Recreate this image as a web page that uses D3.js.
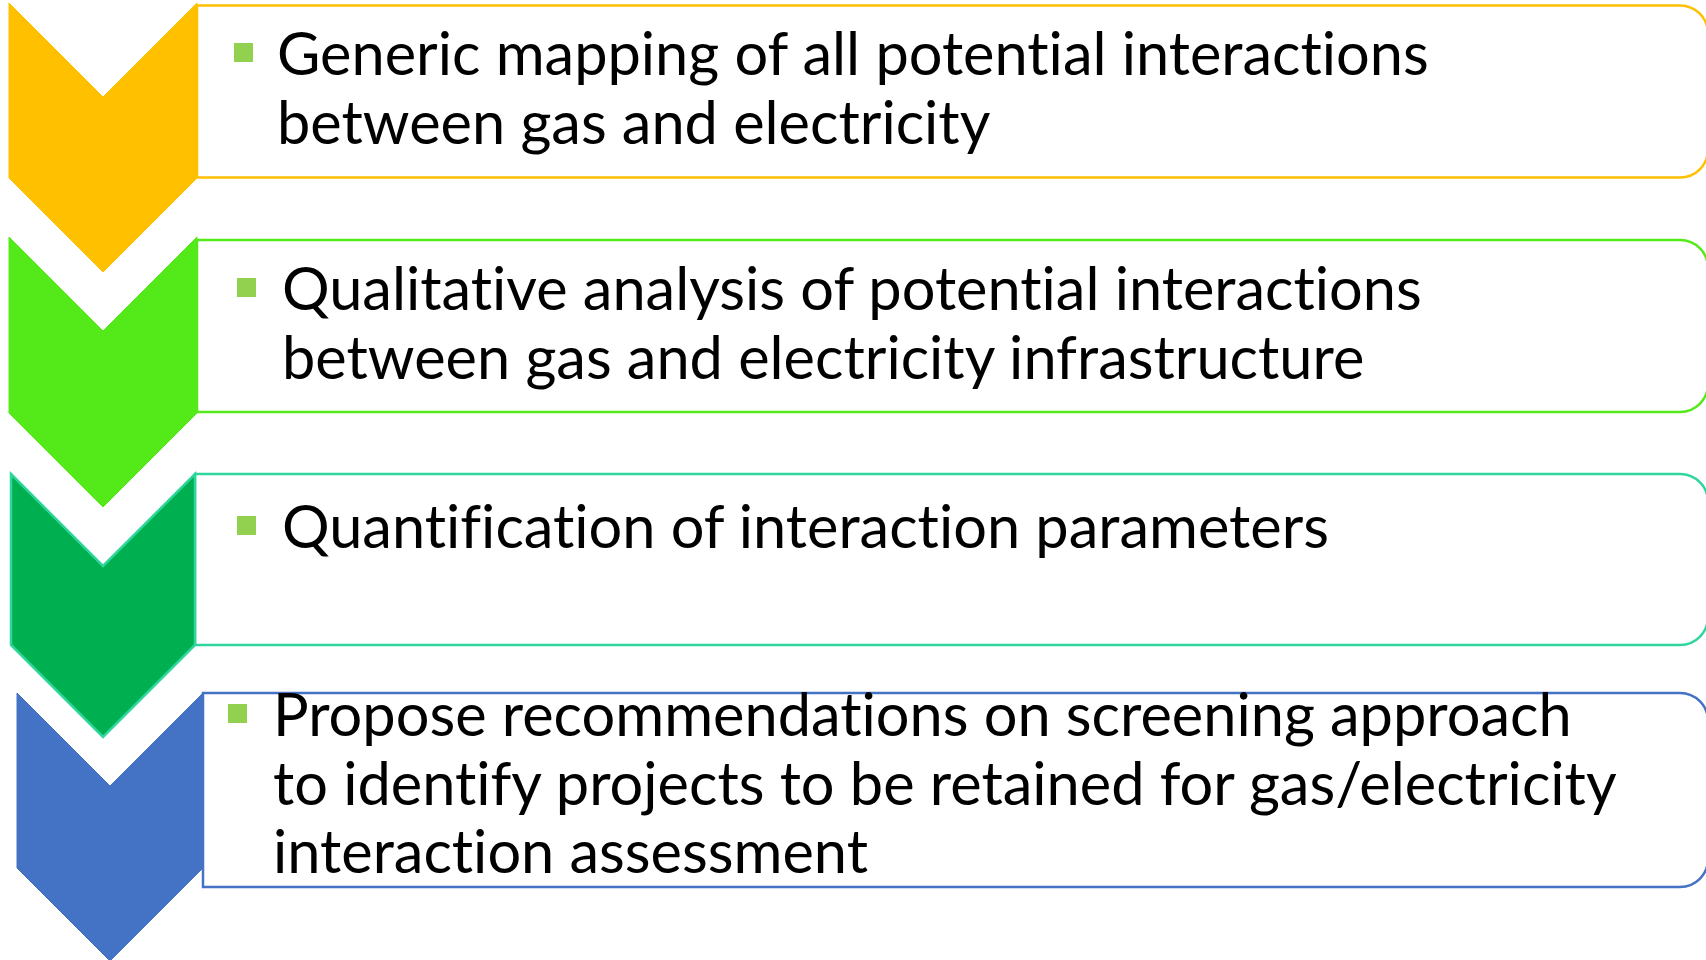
<!DOCTYPE html>
<html>
<head>
<meta charset="utf-8">
<script src="https://cdn.jsdelivr.net/npm/d3@7"></script>
<style>
  html, body { margin: 0; padding: 0; background: #fff; overflow: hidden; }
  svg { display: block; }
  svg text { font-variant-ligatures: none; font-feature-settings: "liga" 0, "clig" 0; }
</style>
</head>
<body>
<div id="chart"></div>
<script>
// data
var steps = ["step1", "step2", "step3", "step4"];
var stepLines = [
    ["Generic mapping of all potential interactions", "between gas and electricity"],
    ["Qualitative analysis of potential interactions", "between gas and electricity infrastructure"],
    ["Quantification of interaction parameters"],
    ["Propose recommendations on screening approach", "to identify projects to be retained for gas/electricity", "interaction assessment"]
];
var fillColors   = ["#FFC000", "#54EA1A", "#00B050", "#4472C4"];
var strokeColors = ["#FFC000", "#54EA1A", "#2ED69E", "#4472C4"];
var bulletColor = "#92D050";

// layout (px) per step: chevron x-range / top / side height, box top / bottom, text start
var layout = [
    {cx0: 9,  cx1: 197, top: 3,   side: 175, boxTop: 5.5, boxBot: 177.5, bx: 234, tx: 277, base: 75},
    {cx0: 9,  cx1: 197, top: 237, side: 176, boxTop: 240, boxBot: 412,   bx: 237, tx: 282, base: 310},
    {cx0: 11, cx1: 195, top: 474, side: 171, boxTop: 474, boxBot: 645,   bx: 237, tx: 282, base: 548},
    {cx0: 17, cx1: 203, top: 693, side: 175, boxTop: 693, boxBot: 887,   bx: 228, tx: 273, base: 736}
];
var boxRight = 1708, boxR = 28, lineStep = 68.5, bulletSize = 19;

var W = 1706, H = 960;
var svg = d3.select("#chart").append("svg").attr("width", W).attr("height", H);

// fit font size so first line spans what it does in the picture
var fontFamily = "Lato, 'Open Sans', sans-serif";
var probe = svg.append("text").style("font-family", fontFamily).style("font-size", "100px").text(stepLines[0][0]);
var probeW = probe.node().getComputedTextLength();
probe.remove();
var fontSize = 100 * 1152 / probeW;

var g = svg.selectAll(".step").data(steps).enter().append("g").attr("class", "step");

// boxes: square left corners, rounded right corners
g.append("path")
    .attr("d", function (d, i) {
        var L = layout[i];
        var p = d3.path();
        p.moveTo(L.cx1, L.boxTop);
        p.lineTo(boxRight - boxR, L.boxTop);
        p.arcTo(boxRight, L.boxTop, boxRight, L.boxTop + boxR, boxR);
        p.lineTo(boxRight, L.boxBot - boxR);
        p.arcTo(boxRight, L.boxBot, boxRight - boxR, L.boxBot, boxR);
        p.lineTo(L.cx1, L.boxBot);
        p.closePath();
        return p.toString();
    })
    .attr("fill", "#fff")
    .attr("stroke", function (d, i) { return strokeColors[i]; })
    .attr("stroke-width", 2.5);

// chevrons
g.append("path")
    .attr("d", function (d, i) {
        var L = layout[i];
        var mid = (L.cx0 + L.cx1) / 2, notch = (L.cx1 - L.cx0) / 2;
        var bot = L.top + L.side;
        return d3.line()([
            [L.cx0, L.top], [mid, L.top + notch], [L.cx1, L.top],
            [L.cx1, bot], [mid, bot + notch], [L.cx0, bot]
        ]) + "Z";
    })
    .attr("fill", function (d, i) { return fillColors[i]; })
    .attr("stroke", function (d, i) { return strokeColors[i]; })
    .attr("stroke-width", function (d, i) { return i == 2 ? 2.5 : 1; })
    .attr("stroke-linejoin", "miter");

// bullets
g.append("rect")
    .attr("x", function (d, i) { return layout[i].bx; })
    .attr("y", function (d, i) { return layout[i].base - 32; })
    .attr("width", bulletSize)
    .attr("height", bulletSize)
    .attr("fill", bulletColor);

// text
var txt = g.append("text")
    .attr("x", function (d, i) { return layout[i].tx; })
    .attr("y", function (d, i) { return layout[i].base; })
    .style("font-family", fontFamily)
    .style("font-size", fontSize + "px")
    .attr("fill", "#000");

txt.selectAll("tspan")
    .data(function (d, i) { return stepLines[i].map(function (s) { return {s: s, i: i}; }); })
    .enter().append("tspan")
    .attr("x", function (d) { return layout[d.i].tx; })
    .attr("dy", function (d, j) { return j == 0 ? 0 : lineStep; })
    .text(function (d) { return d.s; });
</script>
</body>
</html>
